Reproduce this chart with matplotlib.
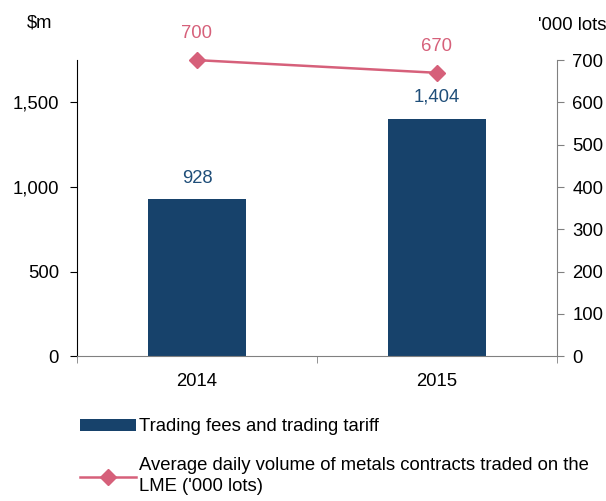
import matplotlib.pyplot as plt
from matplotlib.patches import Patch
from matplotlib.lines import Line2D

plt.rcParams['font.family'] = ['Liberation Sans', 'DejaVu Sans']

# ── Datos ───────────────────────────────────────────────────────────────
years      = ['2014', '2015']
fees       = [928, 1404]     # $m
volume     = [700, 670]      # '000 lots
fee_labels = ['928', '1,404']

navy = '#17426b'
pink = '#d6607a'
fs = 13.3

fig = plt.figure(figsize=(6.06, 5.01), dpi=100)
ax = fig.add_axes([0.127, 0.289, 0.792, 0.591])
ax2 = ax.twinx()

x = range(len(years))
ax.bar(x, fees, width=0.41, color=navy, zorder=2)
for xi, v, lab in zip(x, fees, fee_labels):
    ax.text(xi, v + 75, lab, ha='center', va='bottom', color='#1f4e79', fontsize=fs)

ax2.plot(x, volume, color=pink, lw=1.8, marker='D', ms=8, zorder=3, clip_on=False)
for xi, v in zip(x, volume):
    ax2.text(xi, v + 42, str(v), ha='center', va='bottom', color=pink, fontsize=fs)

ax.set_xlim(-0.5, 1.5)
ax.set_ylim(0, 1750)
ax2.set_ylim(0, 700)
ax.set_yticks([0, 500, 1000, 1500])
ax.set_yticklabels(['0', '500', '1,000', '1,500'])
ax2.set_yticks(range(0, 701, 100))

ax.set_xticks([0, 1])
ax.set_xticklabels(years)
ax.set_xticks([-0.5, 0.5, 1.5], minor=True)
ax.tick_params(axis='x', which='major', length=0, labelsize=fs, pad=12)
ax.tick_params(axis='x', which='minor', length=5, color='#808080')
ax.tick_params(axis='y', length=5, labelsize=fs, pad=8)
ax2.tick_params(axis='y', length=5, labelsize=fs, color='#808080', pad=6)

for a in (ax, ax2):
    a.spines['top'].set_visible(False)
ax2.spines['left'].set_visible(False)
ax2.spines['bottom'].set_visible(False)
ax2.spines['right'].set_color('#808080')
ax.spines['right'].set_visible(False)
ax.spines['bottom'].set_color('#808080')
ax.patch.set_visible(False)
ax.set_zorder(2)

fig.text(0.066, 0.955, '$m', ha='center', va='center', fontsize=fs)
fig.text(0.945, 0.95, "'000 lots", ha='center', va='center', fontsize=fs)

handles = [Patch(facecolor=navy, edgecolor='none'),
           Line2D([], [], color=pink, lw=1.8, marker='D', ms=8)]
labels = ['Trading fees and trading tariff',
          "Average daily volume of metals contracts traded on the\nLME ('000 lots)"]
leg = fig.legend(handles, labels, loc='upper left', bbox_to_anchor=(0.12, 0.18),
                 frameon=False, fontsize=fs, handlelength=3.0, handleheight=0.6,
                 handletextpad=0.2, labelspacing=1.2, borderaxespad=0)
for t in leg.get_texts():
    t.set_linespacing(1.3)

fig.savefig('out.png', dpi=100)
